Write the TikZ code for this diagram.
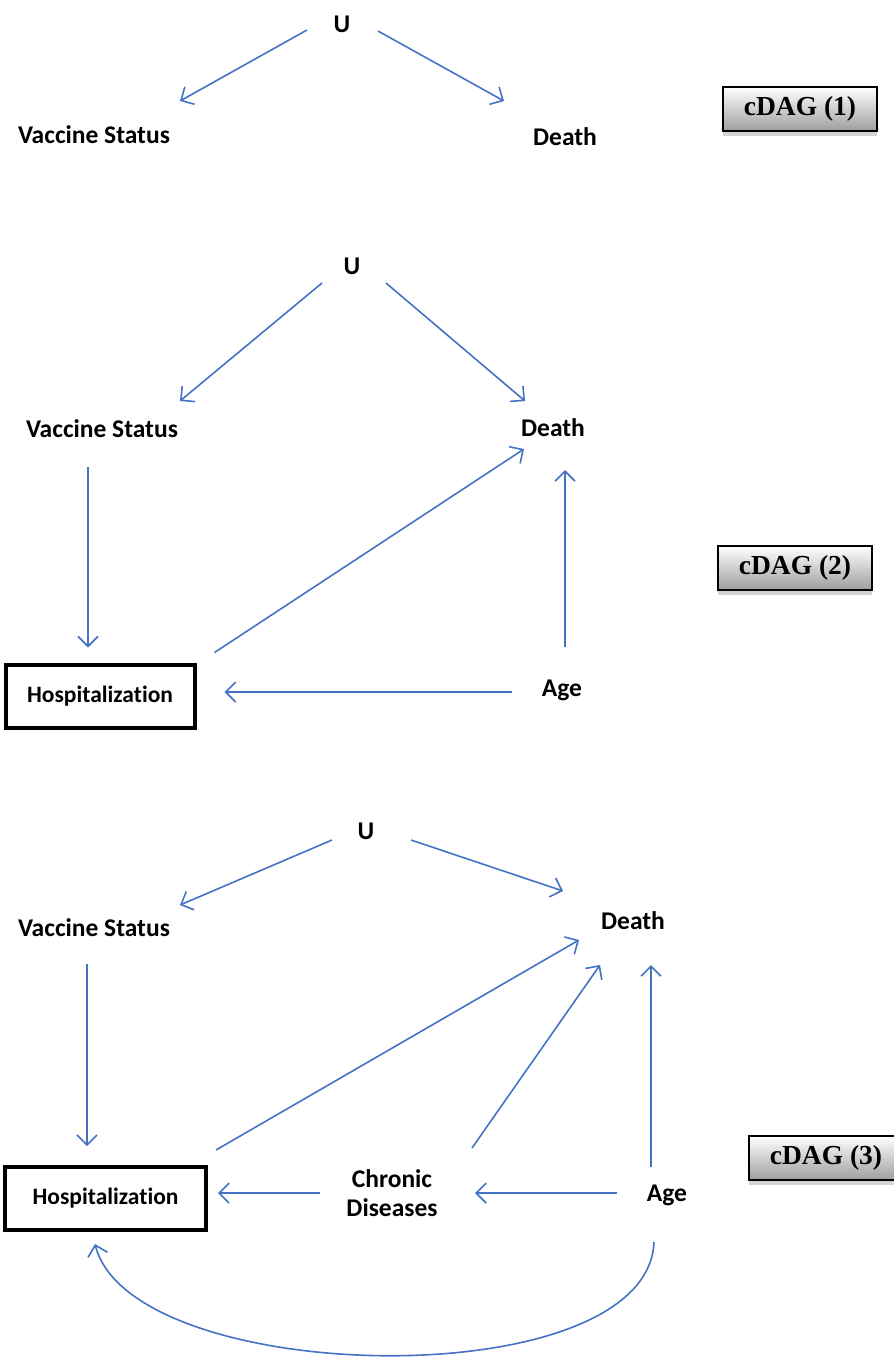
\documentclass[tikz,border=0pt]{standalone}
\usepackage{fontspec}
\setmainfont[Ligatures=NoCommon]{Carlito}
\newfontfamily\tagfont{Liberation Serif}
\usetikzlibrary{arrows.meta,calc,shadows}
\definecolor{arrblue}{RGB}{68,114,196}
\tikzset{
  lbl/.style={font=\fontsize{25.5}{29}\selectfont\bfseries, inner sep=0pt, align=center},
  hbox/.style={draw=black, line width=4pt, minimum width=#1, minimum height=63pt, inner sep=0pt, font=\fontsize{23.5}{27}\selectfont\bfseries},
  tagbox/.style={draw=black, line width=1.5pt, minimum width=154pt, minimum height=44pt, inner sep=0pt,
    top color=white, bottom color=black!38,
    drop shadow={opacity=0.35, shadow xshift=0pt, shadow yshift=-5pt},
    font=\tagfont\fontsize{27.5}{30}\selectfont\bfseries},
  arr/.style={draw=arrblue, line width=1.6pt, -{Straight Barb[length=10pt,width=20pt,line width=1.6pt]}},
}
\begin{document}
\begin{tikzpicture}[x=1pt,y=-1pt]
\useasboundingbox (0,0) rectangle (894,1360);
% ---------- cDAG (1)
\node[lbl] (u1) at (342,24) {U};
\node[lbl] (vs1) at (94,135) {Vaccine Status};
\node[lbl] (d1) at (565,137) {Death};
\node[tagbox] (t1) at (800,109) {cDAG (1)};
\draw[arr] ($(u1)+(-35,6)$) -- ($(vs1)+(86,-34)$);
\draw[arr] ($(u1)+(36,7)$) -- ($(d1)+(-61,-36)$);
% ---------- cDAG (2)
\node[lbl] (u2) at (352,266) {U};
\node[lbl] (vs2) at (102,429) {Vaccine Status};
\node[lbl] (d2) at (553,428) {Death};
\node[hbox=189pt] (h2) at (100,696) {Hospitalization};
\node[lbl] (a2) at (562,690) {Age};
\node[tagbox] (t2) at (795,568) {cDAG (2)};
\draw[arr] ($(u2)+(-30,17)$) -- ($(vs2)+(78,-28)$);
\draw[arr] ($(u2)+(34,17)$) -- ($(d2)+(-28,-27)$);
\draw[arr] ($(vs2)+(-14,38)$) -- ($(h2.north)+(-12,-15)$);
\draw[arr] ($(h2.north east)+(18,-10)$) -- ($(d2)+(-29,21)$);
\draw[arr] ($(a2)+(3,-43)$) -- ($(d2)+(12,42)$);
\draw[arr] ($(a2)+(-50,2)$) -- ($(h2.east)+(28,-4)$);
% ---------- cDAG (3)
\node[lbl] (u3) at (366,831) {U};
\node[lbl] (vs3) at (94,928) {Vaccine Status};
\node[lbl] (d3) at (633,921) {Death};
\node[hbox=201pt] (h3) at (105.5,1198.5) {Hospitalization};
\node[lbl] (cd3) at (392,1193) {Chronic\\Diseases};
\node[lbl] (a3) at (667,1195) {Age};
\node[tagbox] (t3) at (826,1158) {cDAG (3)};
\draw[arr] ($(u3)+(-34,9)$) -- ($(vs3)+(86,-23)$);
\draw[arr] ($(u3)+(45,9)$) -- ($(d3)+(-70,-30)$);
\draw[arr] ($(vs3)+(-7,36)$) -- ($(h3.north)+(-18.5,-19)$);
\draw[arr] ($(h3.north east)+(8,-15)$) -- ($(d3)+(-54,19)$);
\draw[arr] ($(cd3)+(-72,0)$) -- ($(h3.east)+(10,-5.5)$);
\draw[arr] ($(cd3)+(80,-45)$) -- ($(d3)+(-33,44)$);
\draw[arr] ($(a3)+(-16,-28)$) -- ($(d3)+(18,44)$);
\draw[arr] ($(a3)+(-50,-2)$) -- ($(cd3)+(83,0)$);
\draw[arr] ($(a3)+(-13,47)$) .. controls (648,1398) and (132,1388) .. ($(h3.south)+(-10.5,12)$);
\end{tikzpicture}
\end{document}
